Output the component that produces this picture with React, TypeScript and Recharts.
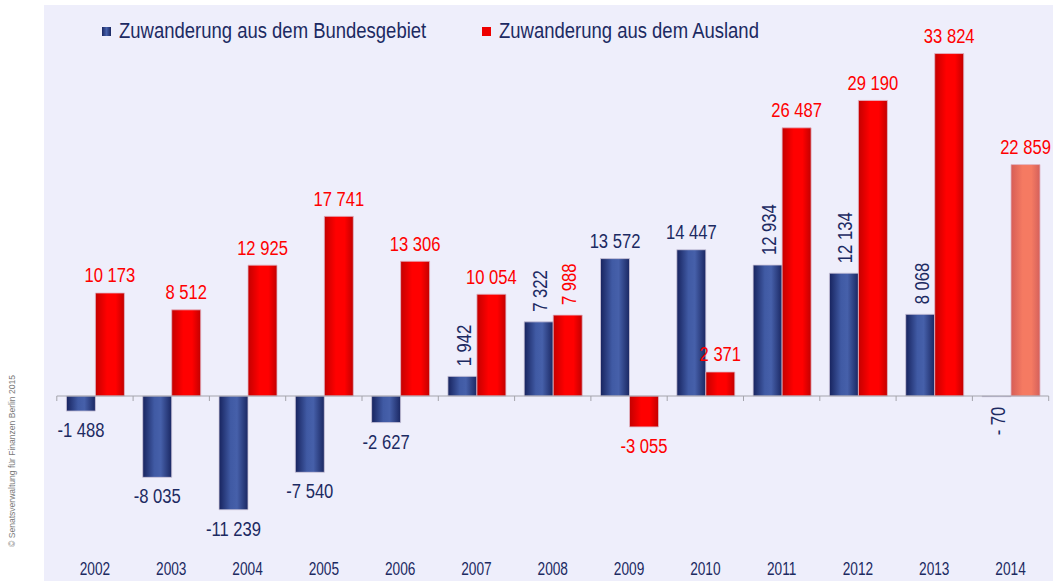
import React from 'react';
import { BarChart, Bar, XAxis, YAxis, ReferenceLine, LabelList, Cell } from 'recharts';

const years = ['2002', '2003', '2004', '2005', '2006', '2007', '2008', '2009', '2010', '2011', '2012', '2013', '2014'];
const fromGermany = [-1488, -8035, -11239, -7540, -2627, 1942, 7322, 13572, 14447, 12934, 12134, 8068, -70];
const fromAbroad = [10173, 8512, 12925, 17741, 13306, 10054, 7988, -3055, 2371, 26487, 29190, 33824, 22859];
const seriesNames = ['Zuwanderung aus dem Bundesgebiet', 'Zuwanderung aus dem Ausland'];
const verticalGermanyYears = ['2007', '2008', '2011', '2012', '2013', '2014'];
const verticalAbroadYears = ['2008'];
const provisionalYear = '2014';
const copyright = '© Senatsverwaltung für Finanzen Berlin 2015';

const data = years.map((year, i) => ({ year, inland: fromGermany[i], ausland: fromAbroad[i] }));

const FONT = '"Liberation Sans", Arial, sans-serif';
const NAVY = '#1c2a62';
const RED = '#ff0000';

const fmt = (v: number) => {
  const a = Math.abs(v);
  const s = a.toString().replace(/\B(?=(\d{3})+(?!\d))/g, ' ');
  if (v < 0) return a < 1000 ? '- ' + s : '-' + s;
  return s;
};

const NarrowText = ({ x, y, rotate = 0, anchor = 'middle', size, color, sx, children }: any) => (
  <g transform={`translate(${x},${y}) rotate(${rotate}) scale(${sx},1)`}>
    <text x={0} y={0} textAnchor={anchor} fill={color} fontFamily={FONT} fontSize={size}>
      {children}
    </text>
  </g>
);

const makeLabel = (color: string, verticalYears: string[]) => (props: any) => {
  const vb = props.viewBox && props.viewBox.width !== undefined ? props.viewBox : props;
  const { x, y, width, height } = vb;
  const value = Number(props.value);
  const index = props.index;
  if (x === undefined || isNaN(value)) return null;
  const year = years[index];
  const cx = x + width / 2;
  const top = Math.min(y, y + height);
  const bottom = Math.max(y, y + height);
  const neg = value < 0;
  const vertical = verticalYears.includes(year);
  if (vertical) {
    const ty = neg ? bottom + 10 : top - 10;
    return (
      <NarrowText x={cx + 8.5} y={ty} rotate={-90} anchor={neg ? 'end' : 'start'} size={20.5} color={color} sx={0.81}>
        {fmt(value)}
      </NarrowText>
    );
  }
  return (
    <NarrowText x={cx} y={neg ? bottom + 26 : top - 10.5} size={20.5} color={color} sx={0.81}>
      {fmt(value)}
    </NarrowText>
  );
};

const YearTick = (props: any) => {
  const { x, y, payload } = props;
  return (
    <NarrowText x={x} y={y + 16.5} size={18.5} color={NAVY} sx={0.74}>
      {payload.value}
    </NarrowText>
  );
};

const ZeroAxis = (props: any) => {
  const { x1, y1, x2 } = props;
  if (x1 === undefined) return null;
  const n = years.length;
  const step = (x2 - x1) / n;
  const ticks = [];
  for (let i = 0; i <= n; i++) {
    const tx = x1 + i * step;
    ticks.push(<line key={i} x1={tx} x2={tx} y1={y1} y2={y1 + 5} stroke="#a4a4ac" strokeWidth={1} />);
  }
  return (
    <g>
      <line x1={x1} x2={x2} y1={y1} y2={y1} stroke="#a4a4ac" strokeWidth={1} />
      {ticks}
    </g>
  );
};

const LegendItem = ({ name, marker, left }: { name: string; marker: string; left: number }) => (
  <div style={{ position: 'absolute', left, top: 18, display: 'flex', alignItems: 'center', whiteSpace: 'nowrap' }}>
    <div style={{ width: 9, height: 9, background: marker, marginRight: 8 }} />
    <span
      style={{
        display: 'inline-block',
        fontFamily: FONT,
        fontSize: 22,
        color: NAVY,
        lineHeight: '26px',
        transform: 'scaleX(0.84)',
        transformOrigin: 'left center',
      }}
    >
      {name}
    </span>
  </div>
);

export default function App() {
  return (
    <div style={{ position: 'absolute', left: 0, top: 0, width: 1053, height: 581, background: '#ffffff', overflow: 'hidden' }}>
      <div style={{ position: 'absolute', left: 44, top: 5, width: 1009, height: 576, background: '#eeeefb' }} />
      <div style={{ position: 'absolute', left: 0, top: 0 }}>
        <BarChart
          width={1053}
          height={581}
          data={data}
          margin={{ top: 31.5, right: 4.3, left: 56.8, bottom: 0 }}
          barCategoryGap="12.6%"
          barGap={0}
        >
          <defs>
            <linearGradient id="gBlue" x1="0" y1="0" x2="1" y2="0">
              <stop offset="0" stopColor="#17235e" />
              <stop offset="0.4" stopColor="#405aa4" />
              <stop offset="0.62" stopColor="#4660aa" />
              <stop offset="1" stopColor="#1a2762" />
            </linearGradient>
            <linearGradient id="gRed" x1="0" y1="0" x2="1" y2="0">
              <stop offset="0" stopColor="#c40000" />
              <stop offset="0.4" stopColor="#ff0000" />
              <stop offset="0.7" stopColor="#ff0000" />
              <stop offset="1" stopColor="#c20000" />
            </linearGradient>
            <linearGradient id="gSalmon" x1="0" y1="0" x2="1" y2="0">
              <stop offset="0" stopColor="#d65d56" />
              <stop offset="0.4" stopColor="#f57a62" />
              <stop offset="0.7" stopColor="#f57a62" />
              <stop offset="1" stopColor="#d4605b" />
            </linearGradient>
          </defs>
          <NarrowText x={15} y={461} rotate={-90} size={9.5} color="#7a7a7a" sx={0.9}>
            {copyright}
          </NarrowText>
          <XAxis dataKey="year" axisLine={false} tickLine={false} tickSize={0} tickMargin={0} height={23} interval={0} tick={YearTick} />
          <YAxis hide domain={[-16000, 36000]} />
          <Bar dataKey="inland" name={seriesNames[0]} fill="url(#gBlue)" stroke="#cfc8dc" strokeWidth={0.8} isAnimationActive={false}>
            <LabelList dataKey="inland" content={makeLabel(NAVY, verticalGermanyYears)} />
          </Bar>
          <Bar dataKey="ausland" name={seriesNames[1]} fill="url(#gRed)" stroke="#e0b8c8" strokeWidth={0.8} isAnimationActive={false}>
            {data.map((d) => (
              <Cell key={d.year} fill={d.year === provisionalYear ? 'url(#gSalmon)' : 'url(#gRed)'} />
            ))}
            <LabelList dataKey="ausland" content={makeLabel(RED, verticalAbroadYears)} />
          </Bar>
          <ReferenceLine y={0} shape={ZeroAxis} isFront={false} />
        </BarChart>
      </div>
      <LegendItem name={seriesNames[0]} marker="linear-gradient(to right, #1a2762, #4660aa, #1a2762)" left={102} />
      <LegendItem name={seriesNames[1]} marker="#ee0000" left={482} />
    </div>
  );
}
